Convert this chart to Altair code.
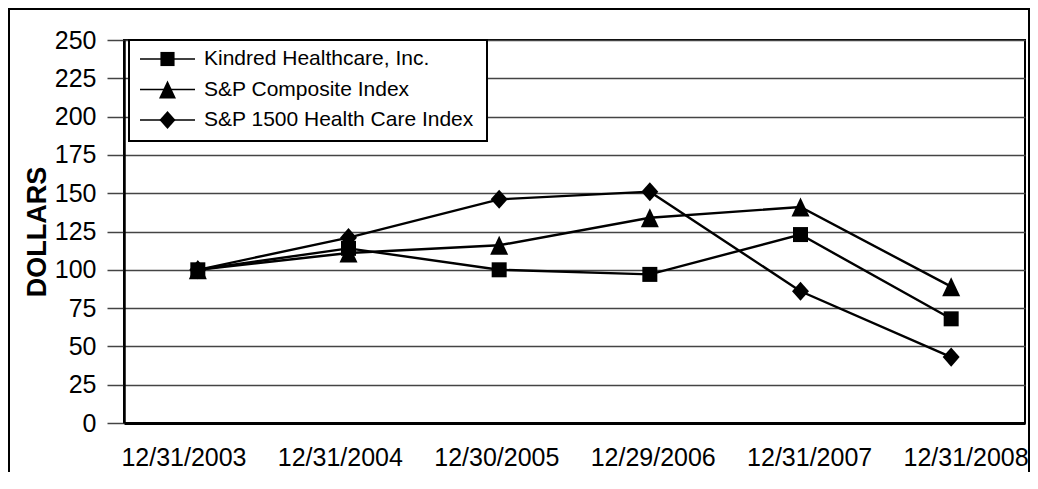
import altair as alt
import pandas as pd

dates = ["12/31/2003", "12/31/2004", "12/30/2005", "12/29/2006", "12/31/2007", "12/31/2008"]
series = ["Kindred Healthcare, Inc.", "S&P Composite Index", "S&P 1500 Health Care Index"]
kindred = [100, 114, 100, 97, 123, 68]
composite = [100, 111, 116, 134, 141, 89]
health = [100, 121, 146, 151, 86, 43]
y_ticks = [0, 25, 50, 75, 100, 125, 150, 175, 200, 225, 250]

rows = []
for name, vals in zip(series, [kindred, composite, health]):
    for d, v in zip(dates, vals):
        rows.append({"date": d, "series": name, "value": v})
df = pd.DataFrame(rows)
legend_df = pd.DataFrame({"series": series, "idx": list(range(len(series)))})
dates_df = pd.DataFrame({"date": dates})

FONT = "Liberation Sans"

data_shapes = [
    "M-1,-1H1V1H-1Z",
    "M0,-1.27L1.2,1.27L-1.2,1.27Z",
    "M0,-1.27L1.13,0L0,1.27L-1.13,0Z",
]
shape_scale = alt.Scale(domain=series, range=data_shapes)

x_enc = alt.X("date:O", sort=dates, scale=alt.Scale(type="point", padding=0.49), axis=None)
y_enc = alt.Y(
    "value:Q",
    scale=alt.Scale(domain=[0, 250], nice=False, zero=True),
    axis=alt.Axis(
        values=y_ticks, title="DOLLARS", titleFont=FONT, titleFontSize=27,
        titleFontWeight="bold", titleColor="black", titleAngle=270,
        titleX=-87, titleY=191.5, titleAlign="center", titleBaseline="middle",
        tickSize=17, tickColor="#444", tickWidth=1.5,
        labelFontSize=25, labelFont=FONT, labelColor="black", labelPadding=11,
        gridColor="#444", gridWidth=1.5, gridOpacity=1,
        domainColor="black", domainWidth=2.5,
    ),
)

base = alt.Chart(df)
lines = base.mark_line(color="black", strokeWidth=2.4).encode(
    x=x_enc, y=y_enc, detail="series:N"
)
points = base.mark_point(filled=True, color="black", opacity=1, size=225).encode(
    x=x_enc, y=y_enc,
    shape=alt.Shape("series:N", scale=shape_scale, legend=None),
)
main = alt.layer(lines, points)

# category axis (labels sit on a slightly wider spacing than the markers)
x_labels = alt.Chart(dates_df).mark_point(opacity=0).encode(
    x=alt.X(
        "date:O", sort=dates,
        scale=alt.Scale(type="point", padding=0.38),
        axis=alt.Axis(
            title=None, labelAngle=0, ticks=False, tickSize=0, labelPadding=22,
            labelFontSize=25, labelFont=FONT, labelColor="black",
            domainColor="black", domainWidth=3, grid=False,
        ),
    )
)

# legend built from the series list
leg = alt.Chart(legend_df).transform_calculate(ly="19 + 30.5 * datum.idx")
ly = alt.Y("ly:Q", scale=None, axis=None)
leg_box = alt.Chart(pd.DataFrame({"a": [0]})).mark_rect(
    fill="white", stroke="black", strokeWidth=2
).encode(x=alt.value(5), x2=alt.value(363), y=alt.value(0), y2=alt.value(101))
leg_rule = leg.mark_rule(color="black", strokeWidth=1.6).encode(
    x=alt.value(16), x2=alt.value(71), y=ly
)
leg_pts = leg.mark_point(filled=True, color="black", opacity=1, size=200).encode(
    x=alt.value(43.5), y=ly,
    shape=alt.Shape("series:N", scale=shape_scale, legend=None),
)
leg_txt = leg.mark_text(
    align="left", baseline="middle", font=FONT, fontSize=21, color="black"
).encode(x=alt.value(80), y=ly, text="series:N")
legend = alt.layer(leg_box, leg_rule, leg_pts, leg_txt)

frame = alt.Chart(pd.DataFrame({"a": [0]})).mark_rect(
    fill="transparent", stroke="black", strokeWidth=2
).encode(x=alt.value(-115), x2=alt.value(905), y=alt.value(-31), y2=alt.value(700))

chart = alt.layer(frame, x_labels, main, legend).resolve_scale(
    x="independent", y="independent"
).properties(
    width=901,
    height=383,
    autosize=alt.AutoSizeParams(type="none"),
    padding={"left": 116, "top": 32, "right": 5, "bottom": 49},
).configure_view(stroke="black", strokeWidth=2)

chart.save("out.html", embed_options={"renderer": "svg", "actions": False})
